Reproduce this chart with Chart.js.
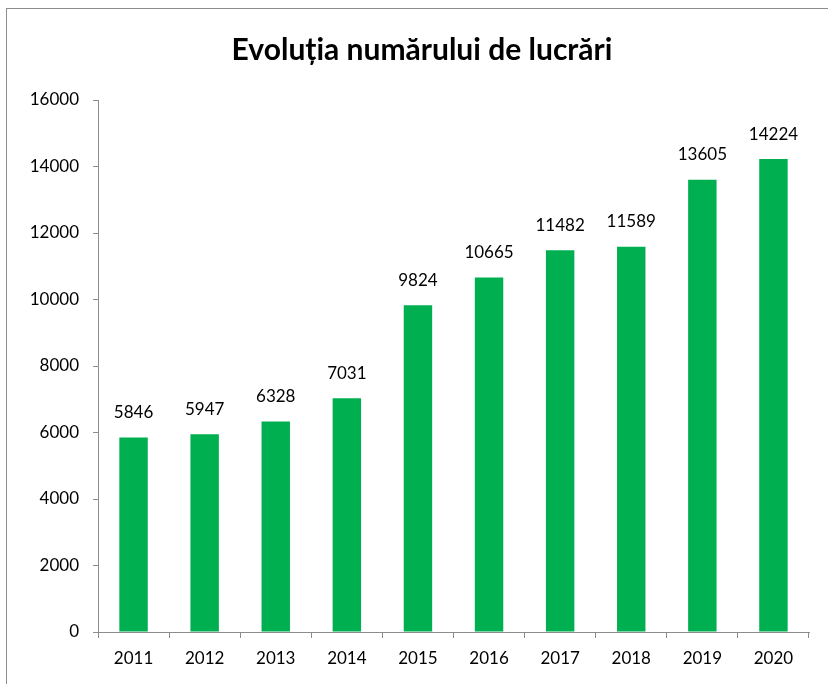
<!DOCTYPE html>
<html>
<head>
<meta charset="utf-8">
<script src="https://cdn.jsdelivr.net/npm/chart.js@4/dist/chart.umd.min.js"></script>
<style>
  html, body { margin: 0; padding: 0; background: #fff; }
  #wrap { width: 828px; height: 684px; position: relative; }
</style>
</head>
<body>
<div id="wrap"><canvas id="myChart" width="828" height="684"></canvas></div>
<script>
var years = ['2011', '2012', '2013', '2014', '2015', '2016', '2017', '2018', '2019', '2020'];
var lucrari = [5846, 5947, 6328, 7031, 9824, 10665, 11482, 11589, 13605, 14224];
var chartTitle = 'Evoluția numărului de lucrări';

var fontFam = 'Lato, "Open Sans", sans-serif';

// frame, title and value labels drawn like the excel chart
var excelLook = {
    id: 'excelLook',
    beforeDraw: function (chart) {
        var ctx = chart.ctx;
        ctx.save();
        ctx.strokeStyle = '#8c8c8c';
        ctx.lineWidth = 1;
        ctx.strokeRect(6.5, 8.5, 1000, 1000);
        ctx.fillStyle = '#000';
        ctx.font = 'bold 30px ' + fontFam;
        ctx.textAlign = 'center';
        ctx.textBaseline = 'middle';
        ctx.fillText(chartTitle, 422, 50);
        ctx.restore();
    },
    afterDatasetsDraw: function (chart) {
        var ctx = chart.ctx;
        var meta = chart.getDatasetMeta(0);
        ctx.save();
        ctx.fillStyle = '#000';
        ctx.font = '17px ' + fontFam;
        ctx.textAlign = 'center';
        ctx.textBaseline = 'middle';
        meta.data.forEach(function (bar, i) {
            ctx.fillText(lucrari[i], bar.x, bar.y - 25);
        });
        ctx.restore();
    }
};

new Chart(document.getElementById('myChart'), {
    type: 'bar',
    data: {
        labels: years,
        datasets: [{
            data: lucrari,
            backgroundColor: '#00B050',
            borderWidth: 0,
            categoryPercentage: 1,
            barPercentage: 0.4
        }]
    },
    options: {
        responsive: false,
        animation: false,
        layout: { padding: { left: 0, right: 19, top: 100, bottom: 0 } },
        plugins: {
            legend: { display: false },
            tooltip: { enabled: false },
            title: { display: false }
        },
        scales: {
            x: {
                grid: { display: true, drawOnChartArea: false, offset: true, color: '#8c8c8c', tickLength: 6 },
                border: { color: '#8c8c8c' },
                ticks: { color: '#000', font: { family: fontFam, size: 17 }, padding: 10 },
                afterFit: function (s) { s.height = 52; }
            },
            y: {
                min: 0,
                max: 16000,
                grid: { display: true, drawOnChartArea: false, color: '#8c8c8c', tickLength: 5 },
                border: { color: '#8c8c8c' },
                ticks: {
                    stepSize: 2000, color: '#000', font: { family: fontFam, size: 17 }, padding: 14,
                    callback: function (v) { return String(v); }
                },
                afterFit: function (s) { s.width = 98; }
            }
        }
    },
    plugins: [excelLook]
});
</script>
</body>
</html>
